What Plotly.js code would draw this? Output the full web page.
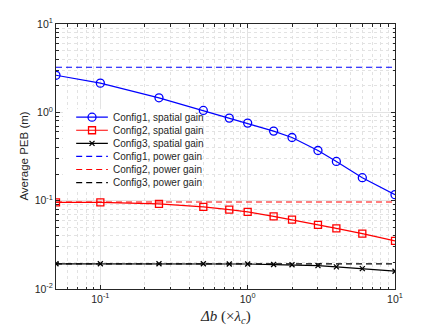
<!DOCTYPE html>
<html>
<head>
<meta charset="utf-8">
<script src="https://cdn.plot.ly/plotly-3.0.1.min.js"></script>
<style>
  html, body { margin: 0; padding: 0; background: #fff; }
  #chart { width: 436px; height: 327px; }
</style>
</head>
<body>
<div id="chart"></div>
<script>
// antenna spacing, in multiples of the carrier wavelength
let delta_b = [0.05, 0.1, 0.25, 0.5, 0.75, 1, 1.5, 2, 3, 4, 6, 10]

// average PEB (m), spatial gain
let config1_spatial = [2.63, 2.14, 1.46, 1.05, 0.86, 0.755, 0.613, 0.519, 0.370, 0.278, 0.182, 0.117]
let config2_spatial = [0.0957, 0.0955, 0.0918, 0.0849, 0.0791, 0.0745, 0.0665, 0.061, 0.0531, 0.0486, 0.0424, 0.035]
let config3_spatial = [0.0193, 0.0193, 0.0193, 0.0193, 0.0192, 0.0192, 0.0189, 0.0188, 0.0184, 0.0178, 0.0170, 0.0159]

// power gain, flat over the spacing
let config1_power = 3.24
let config2_power = 0.0966
let config3_power = 0.0193

let x_range = [0.05, 10]
let x_ticks = [0.1, 1, 10]
let x_ticktext = ['10<sup>-1</sup>', '10<sup>0</sup>', '10<sup>1</sup>']
let y_ticks = [0.01, 0.1, 1, 10]
let y_ticktext = ['10<sup>-2</sup>', '10<sup>-1</sup>', '10<sup>0</sup>', '10<sup>1</sup>']

let names = ['Config1, spatial gain', 'Config2, spatial gain', 'Config3, spatial gain',
             'Config1, power gain', 'Config2, power gain', 'Config3, power gain']
let colors = ['#0000ff', '#ff0000', '#000000', '#0000ff', '#ff0000', '#000000']
let symbols = ['circle-open', 'square-open', 'x-thin-open']
let sizes = [8, 7, 5]
let dash = '6px,4px'

let traces = []

// main curves
let spatial_sets = [config1_spatial, config2_spatial, config3_spatial]
spatial_sets.forEach(function(y, i) {
  traces.push({
    x: delta_b, y: y, name: names[i], showlegend: false,
    type: 'scatter', mode: 'lines+markers',
    line: {color: colors[i], width: 1.2},
    marker: {symbol: symbols[i], size: sizes[i], color: colors[i], line: {color: colors[i], width: 1.3}}
  })
})
let power_levels = [config1_power, config2_power, config3_power]
power_levels.forEach(function(level, i) {
  traces.push({
    x: x_range, y: [level, level], name: names[i + 3], showlegend: false,
    type: 'scatter', mode: 'lines',
    line: {color: colors[i + 3], width: 1.2, dash: dash}
  })
})

// legend, drawn on its own small axes (0..1 across the box, one unit per row)
let leg_line = [0.1, 0.34]
let leg_text_x = 0.365
traces.push({
  x: [0, 1, 1, 0, 0], y: [-0.6, -0.6, 5.6, 5.6, -0.6],
  xaxis: 'x2', yaxis: 'y2', type: 'scatter', mode: 'lines',
  fill: 'toself', fillcolor: '#ffffff', line: {width: 0}, showlegend: false, hoverinfo: 'skip'
})
names.forEach(function(name, i) {
  let spatial = i < 3
  traces.push({
    x: leg_line, y: [i, i], xaxis: 'x2', yaxis: 'y2',
    type: 'scatter', mode: 'lines', showlegend: false,
    line: {color: colors[i], width: 1.2, dash: spatial ? 'solid' : dash}
  })
  if (spatial) {
    traces.push({
      x: [(leg_line[0] + leg_line[1]) / 2], y: [i], xaxis: 'x2', yaxis: 'y2',
      type: 'scatter', mode: 'markers', showlegend: false, cliponaxis: false,
      marker: {symbol: symbols[i], size: sizes[i], color: colors[i], line: {color: colors[i], width: 1.3}}
    })
  }
})

let annotations = names.map(function(name, i) {
  return {
    text: name, x: leg_text_x, y: i, xref: 'x2', yref: 'y2',
    xanchor: 'left', yanchor: 'middle', showarrow: false,
    font: {family: 'Liberation Sans, Arial', size: 10, color: '#262626'}
  }
})

// axis titles as annotations so they sit where the reference has them
annotations.push({
  text: '<i>Δb</i> (×<i>λ</i><sub><i>c</i></sub>)', xref: 'paper', yref: 'paper',
  x: 0.5, y: -0.104, xanchor: 'center', yanchor: 'middle', showarrow: false,
  font: {family: 'Liberation Serif, DejaVu Serif', size: 15, color: '#262626'}
})
annotations.push({
  text: 'Average PEB (m)', xref: 'paper', yref: 'paper', textangle: -90,
  x: -0.097, y: 0.5, xanchor: 'center', yanchor: 'middle', showarrow: false,
  font: {family: 'Liberation Sans, Arial', size: 11.5, color: '#262626'}
})

let axis_common = {
  type: 'log',
  showline: true, mirror: 'ticks',
  linecolor: '#262626', linewidth: 1,
  ticks: 'inside', ticklen: 4, tickcolor: '#262626',
  showgrid: true, gridcolor: '#e3e3e3', gridwidth: 1,
  zeroline: false,
  tickfont: {family: 'Liberation Sans, Arial', size: 10.5, color: '#262626'},
  minor: {ticks: 'inside', ticklen: 2.5, tickcolor: '#262626', dtick: 'D1',
          showgrid: true, gridcolor: '#e2e2e2', griddash: 'dot', gridwidth: 1}
}

let layout = {
  width: 436, height: 327,
  margin: {l: 56, r: 41, t: 24, b: 37.5},
  paper_bgcolor: '#fff', plot_bgcolor: '#fff',
  font: {family: 'Liberation Sans, Arial', size: 10, color: '#262626'},
  showlegend: false,
  xaxis: Object.assign({}, axis_common, {
    range: [Math.log10(x_range[0]), Math.log10(x_range[1])],
    tickmode: 'array', tickvals: x_ticks, ticktext: x_ticktext
  }),
  yaxis: Object.assign({}, axis_common, {
    range: [-2, 1],
    tickmode: 'array', tickvals: y_ticks, ticktext: y_ticktext
  }),
  xaxis2: {domain: [0.0206, 0.41], range: [0, 1], anchor: 'y2', visible: false, fixedrange: true},
  yaxis2: {domain: [0.372, 0.678], range: [5.6, -0.6], anchor: 'x2', visible: false, fixedrange: true},
  annotations: annotations
}

Plotly.newPlot('chart', traces, layout, {staticPlot: true, displayModeBar: false})
</script>
</body>
</html>
